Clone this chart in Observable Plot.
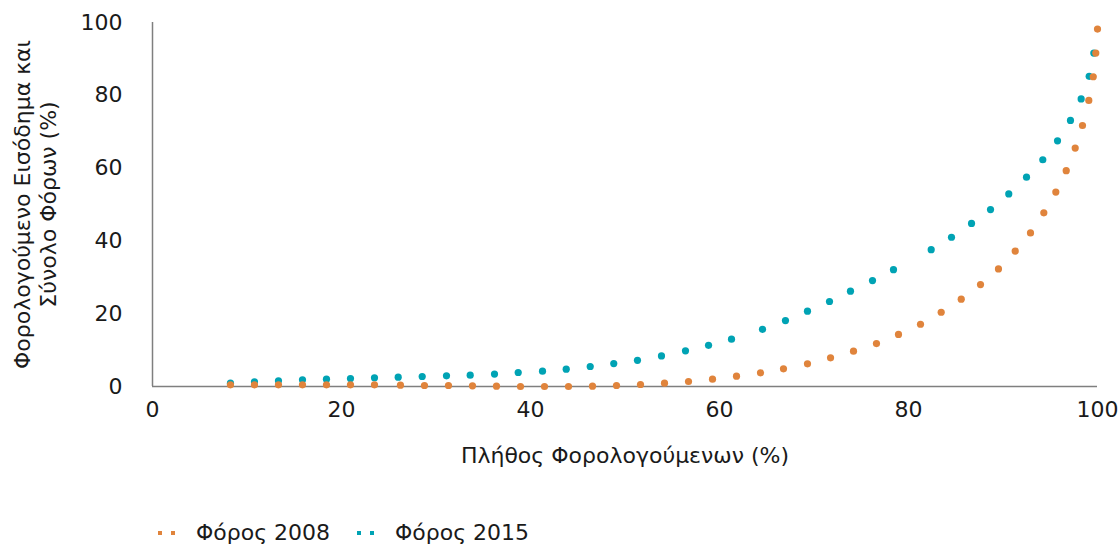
<!DOCTYPE html>
<html>
<head>
<meta charset="utf-8">
<script src="https://cdn.jsdelivr.net/npm/d3@7"></script>
<script src="https://cdn.jsdelivr.net/npm/@observablehq/plot@0.6"></script>
<style>
  html, body { margin: 0; padding: 0; background: #fff; }
  body { width: 1120px; height: 546px; overflow: hidden; font-family: "DejaVu Sans", sans-serif; }
  #legend { position: relative; height: 56px; font-size: 22px; color: #1a1a1a; }
  .item { position: absolute; top: 30px; line-height: 26px; display: flex; align-items: center; }
  .item svg { margin-right: 20px; }
</style>
</head>
<body>
<div id="chart"></div>
<div id="legend"></div>
<script>
const seriesNames = ["Φόρος 2008", "Φόρος 2015"];
const seriesColors = ["#E0843C", "#00A3B4"];
const xTicks = [0, 20, 40, 60, 80, 100];
const yTicks = [0, 20, 40, 60, 80, 100];
const xTitle = "Πλήθος Φορολογούμενων (%)";
const yTitle1 = "Φορολογούμενο Εισόδημα και";
const yTitle2 = "Σύνολο Φόρων (%)";

const x2008 = [8.25, 10.79, 13.33, 15.87, 18.41, 20.95, 23.49, 26.24, 28.78, 31.32, 33.86, 36.40, 38.94, 41.48, 44.02, 46.56,
  49.10, 51.64, 54.18, 56.72, 59.26, 61.80, 64.34, 66.77, 69.31, 71.75, 74.18, 76.61, 78.94, 81.27,
  83.46, 85.58, 87.62, 89.52, 91.29, 92.91, 94.32, 95.59, 96.69, 97.64, 98.41, 99.08, 99.55, 99.82, 100];
const y2008 = [0.47, 0.47, 0.47, 0.47, 0.47, 0.47, 0.47, 0.36, 0.27, 0.27, 0.19, 0.08, 0, 0, 0, 0.08,
  0.27, 0.55, 0.9, 1.37, 2.0, 2.83, 3.76, 4.86, 6.24, 7.88, 9.7, 11.8, 14.3, 17.1,
  20.4, 24.0, 28.0, 32.3, 37.2, 42.2, 47.7, 53.4, 59.3, 65.5, 71.7, 78.6, 85.1, 91.6, 98.2];

const x2015 = [8.25, 10.79, 13.33, 15.87, 18.41, 20.95, 23.49, 26.0, 28.54, 31.11, 33.62, 36.19, 38.70, 41.27, 43.78, 46.32,
  48.81, 51.32, 53.86, 56.40, 58.84, 61.27, 64.55, 66.98, 69.31, 71.64, 73.86, 76.19, 78.41,
  82.40, 84.55, 86.67, 88.68, 90.61, 92.49, 94.21, 95.77, 97.14, 98.27, 99.12, 99.61];
const y2015 = [0.9, 1.29, 1.57, 1.84, 2.0, 2.2, 2.4, 2.56, 2.75, 2.94, 3.1, 3.4, 3.85, 4.2, 4.75, 5.5,
  6.3, 7.2, 8.4, 9.8, 11.3, 13.0, 15.7, 18.1, 20.7, 23.35, 26.2, 29.1, 32.1,
  37.6, 41.0, 44.8, 48.6, 52.9, 57.5, 62.3, 67.5, 73.1, 79.0, 85.2, 91.6];

const d2008 = x2008.map((x, i) => ({x, y: y2008[i]}));
const d2015 = x2015.map((x, i) => ({x, y: y2015[i]}));

const font = '"DejaVu Sans", sans-serif';
const chart = Plot.plot({
  width: 1120,
  height: 490,
  marginLeft: 152,
  marginRight: 23,
  marginTop: 22,
  marginBottom: 104,
  style: { fontFamily: font, fontSize: "22px", color: "#1a1a1a", background: "#fff" },
  x: { domain: [0, 100] },
  y: { domain: [0, 100] },
  marks: [
    Plot.axisX({ ticks: xTicks, tickSize: 0, tickPadding: 15, fontSize: 22, label: null }),
    Plot.axisY({ ticks: yTicks, tickSize: 0, tickPadding: 30, fontSize: 22, label: null }),
    Plot.ruleY([0], { stroke: "#7f7f7f", strokeWidth: 1.5 }),
    Plot.ruleX([0], { stroke: "#7f7f7f", strokeWidth: 1.5 }),
    Plot.text([xTitle], { frameAnchor: "bottom", textAnchor: "middle", lineAnchor: "bottom", dy: 76, fontSize: 22, fill: "#1a1a1a" }),
    Plot.text([yTitle1], { frameAnchor: "left", textAnchor: "middle", rotate: -90, dx: -130, fontSize: 22, fill: "#1a1a1a" }),
    Plot.text([yTitle2], { frameAnchor: "left", textAnchor: "middle", rotate: -90, dx: -104, fontSize: 22, fill: "#1a1a1a" }),
    Plot.dot(d2015, { x: "x", y: "y", r: 3.6, fill: seriesColors[1], stroke: null }),
    Plot.dot(d2008, { x: "x", y: "y", r: 3.6, fill: seriesColors[0], stroke: null })
  ]
});
document.getElementById("chart").appendChild(chart);

const legend = document.getElementById("legend");
const lefts = [156, 355];
seriesNames.forEach((name, i) => {
  const item = document.createElement("div");
  item.className = "item";
  item.style.left = lefts[i] + "px";
  item.innerHTML = `<svg width="20" height="6"><rect x="2" y="1" width="4" height="4" fill="${seriesColors[i]}"/><rect x="15" y="1" width="4" height="4" fill="${seriesColors[i]}"/></svg><span>${name}</span>`;
  legend.appendChild(item);
});
</script>
</body>
</html>
